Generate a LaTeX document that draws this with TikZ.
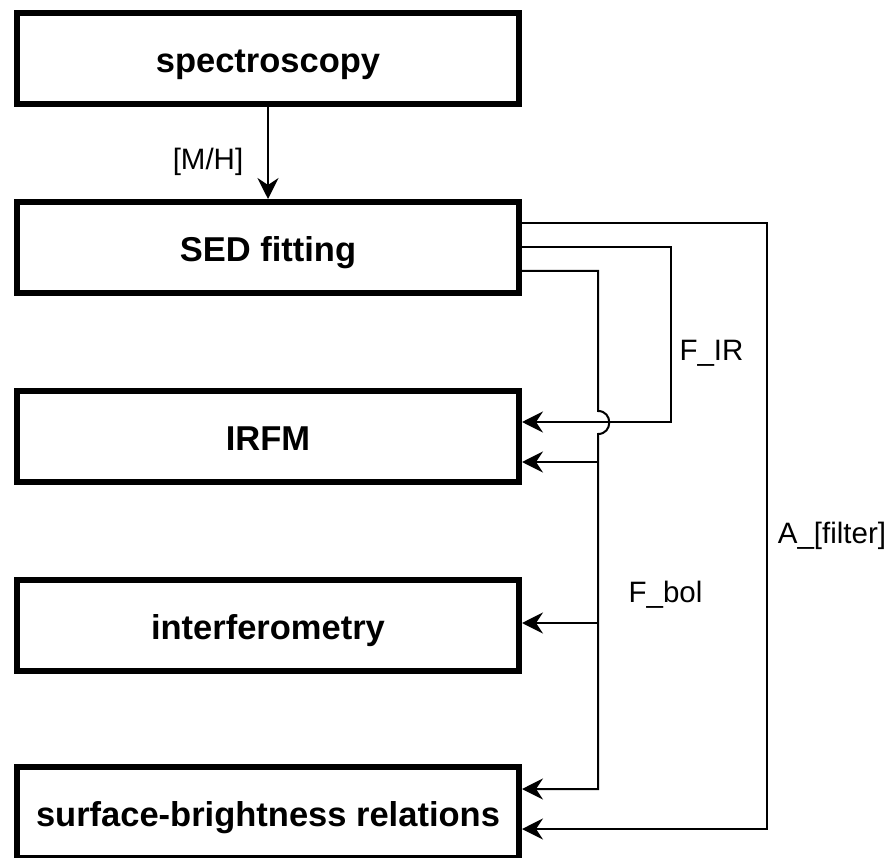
\documentclass[tikz,border=0pt]{standalone}
\usepackage{fontspec}
\setmainfont{Liberation Sans}
\usetikzlibrary{arrows.meta}
\begin{document}
\begin{tikzpicture}[x=1pt,y=-1pt,
  stage/.style={draw, line width=6pt, minimum width=502pt, minimum height=91pt,
    inner sep=0pt, font=\fontsize{34.5}{40}\selectfont\bfseries,
    text height=28pt, text depth=0pt},
  link/.style={line width=2pt, -{Stealth[length=21pt,width=21pt,inset=7pt]}},
  flux/.style={font=\fontsize{29.5}{34}\selectfont, anchor=base, inner sep=0pt}]
\useasboundingbox[fill=white] (0,0) rectangle (894,858);

% methods
\node[stage] (spec) at (268,58.5)  {spectroscopy};
\node[stage] (sed)  at (268,247.5) {SED fitting};
\node[stage] (irfm) at (268,436.5) {IRFM};
\node[stage] (intf) at (268,625)   {interferometry};
\node[stage] (sbr)  at (268,812)   {surface-brightness relations};

% routing points
\coordinate (ac) at (767,829);
\coordinate (fc) at (671,422);
\coordinate (jt) at (598,411);
\coordinate (jb) at (598,434);
\coordinate (b1) at (598,462);
\coordinate (b2) at (598,623);
\coordinate (b3) at (598,789);

% metallicity
\draw[link] (spec) -- (sed);
\node[flux] (mh) at (208,170) {[M/H]};

% extinction
\draw[link] ([yshift=24.5pt]sed.east) -| (ac) -- (sbr.east |- ac);
\node[flux] (afil) at (832,543) {A\_[filter]};

% infrared flux
\draw[link] (sed.east) -| (fc) -- (irfm.east |- fc);
\node[flux] (fir) at (711.5,361) {F\_IR};

% bolometric flux, hopping over the infrared line
\draw[link] ([yshift=-23.5pt]sed.east) -| (jt)
  .. controls (613,411) and (613,434) .. (jb) -- (b3) -- (sbr.east |- b3);
\draw[link] (b1) -- (irfm.east |- b1);
\draw[link] (b2) -- (intf.east |- b2);
\node[flux] (fbol) at (665.5,602) {F\_bol};
\end{tikzpicture}
\end{document}
